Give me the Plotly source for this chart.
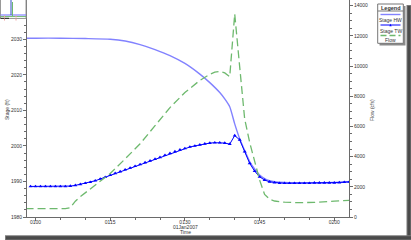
import plotly.graph_objects as go

W, H = 411, 240

# ---- data (minutes after 01:00, 01Jan2007) ----
hw_t = [-2, 0, 5, 10, 15, 18, 21, 24, 27, 30, 33, 35, 37, 38, 39, 40, 41, 42, 43, 44, 45, 46, 47, 48, 50, 55, 60, 63]
hw_stage = [2030.3, 2030.3, 2030.3, 2030.2, 2030.0, 2029.5, 2028.5, 2027.1, 2025.4, 2023.2, 2020.2, 2017.8,
            2015.0, 2013.2, 2011.0, 2006.2, 2002.0, 1998.7, 1995.6, 1993.5, 1991.8, 1990.8, 1990.2, 1989.9,
            1989.7, 1989.6, 1989.7, 1989.9]

tw_t = list(range(-1, 64))
tw_stage = [1988.6, 1988.6, 1988.6, 1988.6, 1988.6, 1988.6, 1988.6, 1988.6,  # -1..6
            1988.7, 1988.9, 1989.2, 1989.5, 1989.8, 1990.2, 1990.7, 1991.2, 1991.8,  # 7..15
            1992.3, 1992.8, 1993.3, 1993.8, 1994.3, 1994.8, 1995.3, 1995.8, 1996.3, 1996.8,  # 16..25
            1997.4, 1997.9, 1998.4, 1998.9, 1999.3, 1999.7, 2000.0, 2000.3, 2000.6, 2000.8,  # 26..35
            2000.9, 2000.9, 2000.8, 2000.5, 2002.9, 2001.7, 1998.4, 1995.1, 1992.9, 1991.3,  # 36..45
            1990.4, 1989.9, 1989.7, 1989.5, 1989.5, 1989.5, 1989.5, 1989.5, 1989.5, 1989.5,  # 46..55
            1989.6, 1989.6, 1989.6, 1989.6, 1989.6, 1989.7, 1989.8, 1989.9]  # 56..63

flow_t = [-2, 0, 6, 7, 8, 9, 10, 12, 15, 18, 21, 24, 27, 30, 33, 35, 36, 37, 38, 39, 40, 41, 42, 43, 44,
          45, 46, 47, 48, 50, 53, 56, 60, 63]
flow_cfs = [557, 557, 557, 620, 1050, 1350, 1600, 2100, 2880, 3850, 4850, 6050, 7250, 8250, 9050, 9450,
            9600, 9650, 9550, 9300, 13450, 9950, 6500, 4950, 3700, 2450, 1500, 1180, 1060, 980, 950, 970,
            1050, 1100]

x_tickvals = [0, 15, 30, 45, 60]
x_ticktext = ["0100", "0115", "0130", "0145", "0200"]

HW_COLOR = "rgb(130,130,255)"
TW_COLOR = "rgb(0,0,255)"
FLOW_COLOR = "rgb(110,185,110)"
AX = "#6a6a6a"
TXT = "#333333"
FONT = "Arial, Liberation Sans, sans-serif"
FS = 5

def px(x):
    return x / W

def py(y):
    return 1 - y / H

fig = go.Figure()
fig.add_trace(go.Scatter(x=hw_t, y=hw_stage, mode="lines", line=dict(color=HW_COLOR, width=1.4, shape="spline", smoothing=0.6),
                         name="Stage HW", yaxis="y"))
fig.add_trace(go.Scatter(x=flow_t, y=flow_cfs, mode="lines", line=dict(color=FLOW_COLOR, width=1.3, dash="8px,4px"),
                         name="Flow", yaxis="y2"))
fig.add_trace(go.Scatter(x=tw_t, y=tw_stage, mode="lines+markers", line=dict(color=TW_COLOR, width=1),
                         marker=dict(symbol="triangle-up", size=3.5, color=TW_COLOR), name="Stage TW", yaxis="y"))

tickfont = dict(family=FONT, size=FS, color=TXT)
fig.update_layout(
    width=W, height=H, margin=dict(l=0, r=0, t=0, b=0),
    paper_bgcolor="white", plot_bgcolor="white", showlegend=False,
    xaxis=dict(domain=[px(27), px(349)], range=[-1.71, 62.95], tickvals=x_tickvals, ticktext=x_ticktext,
               ticks="outside", ticklen=3, tickcolor=AX, showline=True, linecolor=AX, linewidth=1,
               showgrid=False, zeroline=False, tickfont=tickfont, automargin=False, ticklabelstandoff=-3,
               minor=dict(dtick=5, tick0=0, ticks="outside", ticklen=2, tickcolor=AX)),
    yaxis=dict(domain=[py(217), 1], range=[1980, 2041.04], tick0=1980, dtick=10, ticks="outside", ticklen=3,
               tickcolor=AX, showline=True, linecolor=AX, linewidth=1, showgrid=False, zeroline=False,
               tickfont=tickfont, automargin=False,
               minor=dict(dtick=2, tick0=1980, ticks="outside", ticklen=2, tickcolor=AX)),
    yaxis2=dict(domain=[py(217), 1], range=[0, 14377], overlaying="y", side="right", anchor="x", tick0=0, dtick=2000,
                ticks="outside", ticklen=3, tickcolor=AX, showline=True, linecolor=AX, linewidth=1,
                showgrid=False, zeroline=False, tickfont=tickfont, automargin=False,
                tickformat="d", exponentformat="none",
                minor=dict(dtick=500, tick0=0, ticks="outside", ticklen=2, tickcolor=AX)),
)

ann = []
def text(x, y, s, size=FS, bold=False, angle=0, color=TXT):
    ann.append(dict(x=px(x), y=py(y), xref="paper", yref="paper", text=("<b>%s</b>" % s) if bold else s,
                    showarrow=False, textangle=angle, font=dict(family=FONT, size=size, color=color),
                    xanchor="center", yanchor="middle"))

text(185, 226.8, "01Jan2007")
text(185, 232.4, "Time")
text(7, 110, "Stage (ft)", angle=-90)
text(372, 110, "Flow (cfs)", angle=-90)

shapes = []
def rect(x0, y0, x1, y1, fill=None, line=None, lw=1, dash=None):
    d = dict(type="rect", xref="paper", yref="paper", x0=px(x0), x1=px(x1), y0=py(y0), y1=py(y1), layer="above")
    d["fillcolor"] = fill if fill else "rgba(0,0,0,0)"
    d["line"] = dict(color=line if line else "rgba(0,0,0,0)", width=lw if line else 0)
    if dash and line:
        d["line"]["dash"] = dash
    shapes.append(d)

def seg(x0, y0, x1, y1, color, lw=1, dash=None):
    l = dict(color=color, width=lw)
    if dash:
        l["dash"] = dash
    shapes.append(dict(type="line", xref="paper", yref="paper", x0=px(x0), x1=px(x1), y0=py(y0), y1=py(y1),
                       line=l, layer="above"))

# legend box
rect(379.5, 6, 405.5, 45.5, fill="#8a8a8a")
rect(377.7, 4, 403.3, 43.3, fill="white", line="#777777", lw=1)
seg(377.7, 11, 403.3, 11, "#777777", 1)
text(390.5, 7.6, "Legend", size=5.5, bold=True)
seg(380.5, 14.5, 400.5, 14.5, HW_COLOR, 1.4)
text(390.5, 20, "Stage HW")
seg(380.5, 25, 400.5, 25, TW_COLOR, 1)
shapes.append(dict(type="path", xref="paper", yref="paper",
                   path="M %f %f L %f %f L %f %f Z" % (px(389.3), py(26.2), px(391.7), py(26.2), px(390.5), py(23.8)),
                   fillcolor=TW_COLOR, line=dict(width=0), layer="above"))
text(390.5, 30.5, "Stage TW")
seg(380.5, 35.5, 400.5, 35.5, FLOW_COLOR, 1.3, dash="6px,3px")
text(390.5, 40.5, "Flow")

# overview thumbnail (top-left)
rect(0.5, -2, 26, 18.5, fill="white", line="#999999", lw=1)
seg(0.5, 15, 26, 15, HW_COLOR, 1.2)
seg(0.5, 16.6, 26, 16.6, FLOW_COLOR, 1)
seg(11, 0, 11, 15, "#3050c0", 1)
seg(12.5, 2, 12.5, 16, FLOW_COLOR, 1)
seg(0.5, 18.3, 9, 18.3, "#202020", 1)
seg(4.5, 15.5, 4.5, 21, "#f0a0a0", 1, dash="2px,1px")
seg(16, 15.5, 16, 21, "#f0a0a0", 1, dash="2px,1px")

# drop shadow of the window
rect(406.5, 5, 411, 240, fill="#7a7a7a")
rect(407.5, 6, 410.5, 240, fill="#4a4a4a")
rect(5, 235.3, 411, 240, fill="#7a7a7a")
rect(6, 236.3, 411, 239.5, fill="#4a4a4a")

fig.update_layout(annotations=ann, shapes=shapes)
fig.write_html("out.html")
